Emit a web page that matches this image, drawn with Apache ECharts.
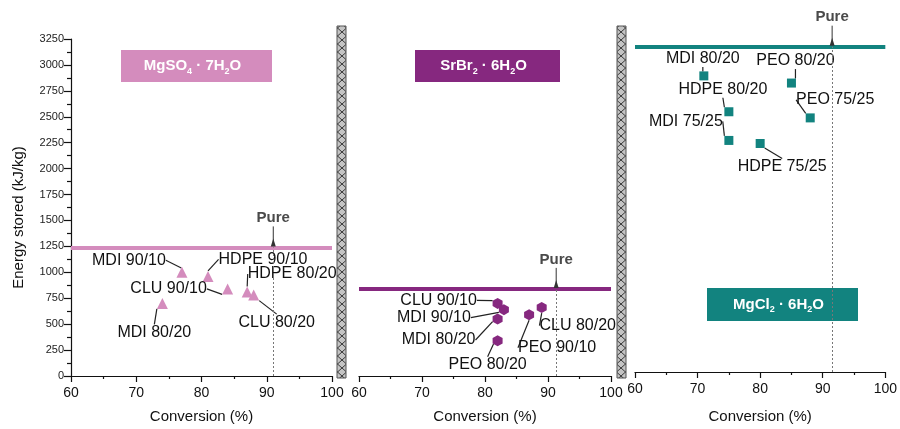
<!DOCTYPE html>
<html lang="en">
<head>
    <meta charset="UTF-8">
    <title>Energy stored vs conversion</title>
    <script src="https://cdn.jsdelivr.net/npm/echarts@6/dist/echarts.min.js"></script>
    <style>
        html, body { margin: 0; padding: 0; background: #fff; }
    </style>
</head>
<body>

<div id="main" style="width: 900px;height:429px;"></div>
<script type="text/javascript">

    // ---- data ----
    var xTicks = [60, 70, 80, 90, 100];

    // MgSO4·7H2O composites (triangles)
    var names1 = ['MDI 90/10', 'HDPE 90/10', 'CLU 90/10', 'HDPE 80/20', 'CLU 80/20', 'MDI 80/20'];
    var conv1 = [77, 81, 84, 87, 88, 74];
    var energy1 = [1000, 960, 840, 810, 780, 700];

    // SrBr2·6H2O composites (hexagons)
    var names2 = ['CLU 90/10', 'MDI 90/10', 'MDI 80/20', 'PEO 80/20', 'PEO 90/10', 'CLU 80/20'];
    var conv2 = [82, 83, 82, 82, 87, 89];
    var energy2 = [700, 640, 550, 340, 590, 660];

    // MgCl2·6H2O composites (squares)
    var names3 = ['MDI 80/20', 'PEO 80/20', 'HDPE 80/20', 'PEO 75/25', 'MDI 75/25', 'HDPE 75/25'];
    var conv3 = [71, 85, 75, 88, 75, 80];
    var energy3 = [2890, 2820, 2540, 2480, 2260, 2230];

    // pure salts
    var pureConv = [91, 91.3, 91.5];
    var pureEnergy = [1240, 840, 3175];

    // ---- layout / style ----
    var font = 'Liberation Sans, Arial, sans-serif';
    var colors = ['#d48cbd', '#86287f', '#12837f'];
    var ink = '#111';

    // label offsets (px) from each marker
    var offs1 = [[-53, -12], [55, -17], [-59, 0], [45, -18], [23, 27], [-8, 29]];
    var offs2 = [[-59, -3], [-70, 8], [-59, 21], [-10, 24], [28, 33], [36, 18]];
    var offs3 = [[-1, -17], [4, -22], [-6, -22], [25, -18], [-43, -19], [22, 23]];

    var hexagon = 'path://M5,0 L9.6,2.8 L9.6,8.2 L5,11 L0.4,8.2 L0.4,2.8 Z';

    function xAxis(i, gap) {
        return {
            gridIndex: i, type: 'value', min: xTicks[0], max: xTicks[xTicks.length - 1], interval: 10,
            name: 'Conversion (%)', nameLocation: 'middle', nameGap: gap,
            nameTextStyle: {fontSize: 15, color: ink, fontFamily: font},
            axisLine: {onZero: false, lineStyle: {color: ink, width: 1.2}},
            axisTick: {length: 6, lineStyle: {color: ink, width: 1.2}},
            minorTick: {show: true, splitNumber: 2, length: 3, lineStyle: {color: ink, width: 1.2}},
            axisLabel: {fontSize: 14, color: ink, margin: 10, fontFamily: font},
            splitLine: {show: false}
        };
    }

    function yAxis(i, show) {
        return {
            gridIndex: i, type: 'value', min: 0, max: 3250, interval: 250, show: show,
            name: show ? 'Energy stored (kJ/kg)' : '', nameLocation: 'middle', nameGap: 45,
            nameTextStyle: {fontSize: 15, color: ink, fontFamily: font, padding: [0, 0, 0, 0]},
            axisLine: {show: true, lineStyle: {color: ink, width: 1.2}},
            axisTick: {length: 7, lineStyle: {color: ink, width: 1.2}},
            minorTick: {show: true, splitNumber: 2, length: 4, lineStyle: {color: ink, width: 1.2}},
            axisLabel: {fontSize: 11, color: '#222', margin: 7, fontFamily: font,
                formatter: function (v) { return String(v); }},
            splitLine: {show: false}
        };
    }

    function pointSeries(i, names, conv, energy, offs, symbol, size) {
        var data = names.map(function (n, k) {
            return {name: n, value: [conv[k], energy[k]]};
        });
        return {
            type: 'scatter', xAxisIndex: i, yAxisIndex: i,
            symbol: symbol, symbolSize: size,
            itemStyle: {color: colors[i], opacity: 1},
            data: data,
            label: {
                show: true, position: 'inside', formatter: '{b}',
                fontSize: 16, color: ink, fontFamily: font
            },
            labelLine: {show: true, lineStyle: {color: '#222', width: 1.2}},
            labelLayout: function (p) {
                return {dx: offs[p.dataIndex][0], dy: offs[p.dataIndex][1]};
            },
            markLine: {
                silent: true, animation: false, symbol: 'none',
                data: [
                    {yAxis: pureEnergy[i], lineStyle: {color: colors[i], width: 4, type: 'solid'}, label: {show: false}},
                    [{coord: [pureConv[i], 0], lineStyle: {color: '#777', width: 1, type: [2, 2]}, label: {show: false}},
                        {coord: [pureConv[i], pureEnergy[i]]}]
                ]
            },
            markPoint: {
                silent: true, animation: false,
                data: [{coord: [pureConv[i], pureEnergy[i]], symbol: 'triangle', symbolSize: [5, 8],
                    symbolOffset: [0, -5], itemStyle: {color: '#333'}, label: {show: false}}]
            }
        };
    }

    // hatched separator pattern
    var pat = document.createElement('canvas');
    pat.width = 9;
    pat.height = 8;
    var ctx = pat.getContext('2d');
    ctx.fillStyle = '#c4c4c4';
    ctx.fillRect(0, 0, 9, 8);
    ctx.strokeStyle = '#3a3a3a';
    ctx.lineWidth = 1;
    ctx.beginPath();
    ctx.moveTo(0, 0); ctx.lineTo(9, 8);
    ctx.moveTo(9, 0); ctx.lineTo(0, 8);
    ctx.stroke();

    function separator(x) {
        return {
            type: 'rect', shape: {x: x, y: 26, width: 9, height: 352},
            style: {fill: {image: pat, repeat: 'repeat'}, stroke: '#555', lineWidth: 1}
        };
    }

    function saltBox(x, y, w, h, color, text) {
        return {
            type: 'group', children: [
                {type: 'rect', shape: {x: x, y: y, width: w, height: h}, style: {fill: color}},
                {
                    type: 'text', x: x + w / 2 - 4, y: y + h / 2,
                    style: {
                        text: text, fill: '#fff', align: 'center', verticalAlign: 'middle',
                        rich: {
                            a: {fontSize: 15, fontWeight: 'bold', fontFamily: font, fill: '#fff', lineHeight: 20},
                            s: {fontSize: 9, fontWeight: 'bold', fontFamily: font, fill: '#fff', lineHeight: 10, verticalAlign: 'bottom'}
                        }
                    }
                }
            ]
        };
    }

    var graphics = [
        separator(337),
        separator(617),
        saltBox(121, 50, 151, 32, colors[0], '{a|MgSO}{s|4}{a| · 7H}{s|2}{a|O}'),
        saltBox(415, 50, 145, 32, colors[1], '{a|SrBr}{s|2}{a| · 6H}{s|2}{a|O}'),
        saltBox(707, 288, 151, 33, colors[2], '{a|MgCl}{s|2}{a| · 6H}{s|2}{a|O}')
    ];

    var option = {
        animation: false,
        textStyle: {fontFamily: font},
        grid: [
            {left: 71, top: 39, width: 261, height: 342},
            {left: 359, top: 39, width: 252, height: 342},
            {left: 635, top: 39, width: 253, height: 342}
        ],
        xAxis: [xAxis(0, 33), xAxis(1, 33), xAxis(2, 37)],
        yAxis: [yAxis(0, true), yAxis(1, false), yAxis(2, false)],
        series: [
            pointSeries(0, names1, conv1, energy1, offs1, 'triangle', 11),
            pointSeries(1, names2, conv2, energy2, offs2, hexagon, [10, 11]),
            pointSeries(2, names3, conv3, energy3, offs3, 'rect', 9)
        ],
        graphic: graphics
    };

    var myChart = echarts.init(document.getElementById('main'));
    myChart.setOption(option);

    // "Pure" arrow + label, placed from the axes' own scale
    var pureMarks = [];
    for (var i = 0; i < 3; i++) {
        var p = myChart.convertToPixel({gridIndex: i}, [pureConv[i], pureEnergy[i]]);
        pureMarks.push({
            type: 'line', shape: {x1: p[0], y1: p[1] - 21, x2: p[0], y2: p[1] - 4},
            style: {stroke: '#333', lineWidth: 1}
        });
        pureMarks.push({
            type: 'text', x: p[0], y: p[1] - 22,
            style: {text: 'Pure', align: 'center', verticalAlign: 'bottom', fill: '#4a4a4a',
                fontSize: 15, fontWeight: 'bold', fontFamily: font}
        });
    }
    // y title sits a little below the axis middle in the original
    myChart.setOption({
        graphic: graphics.concat(pureMarks),
        yAxis: [{nameTextStyle: {padding: [0, 0, 0, -20]}}]
    });

</script>

</body>
</html>
